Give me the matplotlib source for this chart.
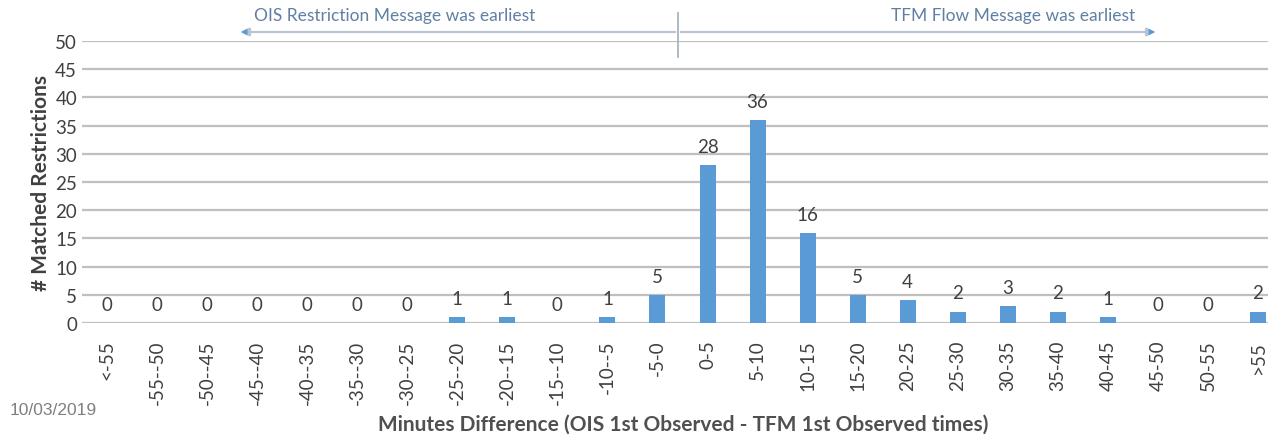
import numpy as np
import matplotlib
matplotlib.use("Agg")
import matplotlib.pyplot as plt

plt.rcParams['font.family'] = ['Lato', 'DejaVu Sans']

# bins and counts
bins = ["<-55", "-55--50", "-50--45", "-45--40", "-40--35", "-35--30", "-30--25",
        "-25--20", "-20--15", "-15--10", "-10--5", "-5-0", "0-5", "5-10", "10-15",
        "15-20", "20-25", "25-30", "30-35", "35-40", "40-45", "45-50", "50-55", ">55"]
counts = [0, 0, 0, 0, 0, 0, 0, 1, 1, 0, 1, 5, 28, 36, 16, 5, 4, 2, 3, 2, 1, 0, 0, 2]

txt = "#404040"
fig = plt.figure(figsize=(12.68, 4.35), dpi=100)
ax = fig.add_axes([82 / 1268, 111 / 435, 1 - 82 / 1268, (393 - 111) / 435])

x = np.arange(len(bins))
ax.bar(x, counts, width=0.32, color="#5B9BD5", zorder=3)
for xi, c in zip(x, counts):
    ax.annotate(str(c), (xi, c), xytext=(0, 13.5), textcoords="offset points",
                ha="center", va="center", fontsize=13.5, color=txt)

ax.set_xlim(-0.5, 23.2)
ax.set_ylim(0, 50)
ax.set_yticks(range(0, 51, 5))
ax.yaxis.grid(True, color="#BFBFBF", linewidth=1.6, zorder=0)
for s in ax.spines.values():
    s.set_visible(False)
ax.tick_params(axis="both", length=0, colors=txt, labelsize=13.5)
ax.tick_params(axis="x", pad=12)
ax.set_xticks(x)
ax.set_xticklabels(bins, rotation=90)

ax.set_ylabel("# Matched Restrictions", fontsize=15, fontweight="bold", color=txt, labelpad=3)
fig.text(683 / 1268, 10 / 435, "Minutes Difference (OIS 1st Observed - TFM 1st Observed times)",
         ha="center", va="center", fontsize=15, fontweight="bold", color="#505050")
fig.text(10 / 1268, 24 / 435, "10/03/2019", ha="left", va="center", fontsize=12.5,
         color="#7F7F7F", family="Liberation Sans")

# direction arrows at top
ay = 1 - 33 / 435
xm = 678 / 1268
fig.add_artist(plt.Line2D([xm, xm], [1 - 14 / 435, 1 - 58 / 435], color="#A6B4C4", lw=1.3))
for xe in (238 / 1268, 1158 / 1268):
    fig.add_artist(matplotlib.patches.FancyArrowPatch(
        (xm, ay), (xe, ay), transform=fig.transFigure, arrowstyle="-|>",
        mutation_scale=12, color="#B8C4D2", lw=1.6))
    fig.add_artist(matplotlib.patches.FancyArrowPatch(
        (xe + (0.006 if xe < xm else -0.006), ay), (xe, ay), transform=fig.transFigure,
        arrowstyle="-|>", mutation_scale=12, color="#5B9BD5", lw=0))
fig.text(395 / 1268, 1 - 16 / 435, "OIS Restriction Message was earliest", ha="center",
         va="center", fontsize=12.5, color="#5F7FA3")
fig.text(1013 / 1268, 1 - 16 / 435, "TFM Flow Message was earliest", ha="center",
         va="center", fontsize=12.5, color="#5F7FA3")

fig.savefig("out.png", dpi=100)
